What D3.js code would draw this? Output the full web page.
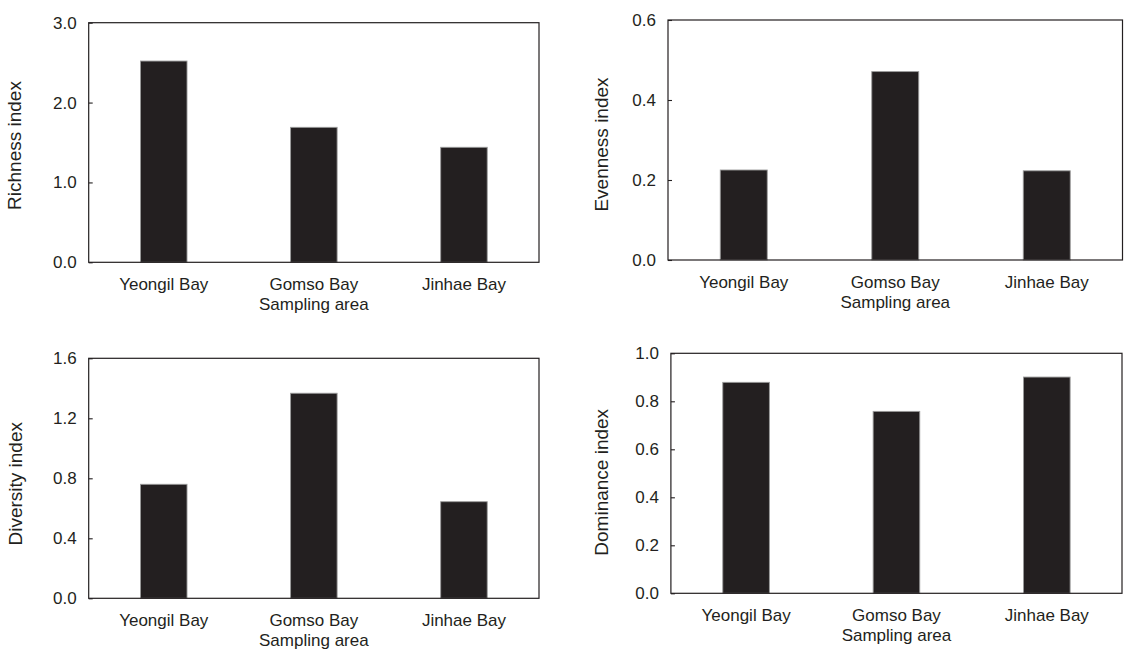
<!DOCTYPE html>
<html>
<head>
<meta charset="utf-8">
<script src="https://cdn.jsdelivr.net/npm/d3@7"></script>
<style>
  html, body { margin: 0; padding: 0; background: #fff; }
  svg text { font-family: "Liberation Sans", Arial, sans-serif; fill: #231f20; }
</style>
</head>
<body>
<svg id="chart" width="1130" height="652"></svg>
<script>
// ---- data ----
const categories = ["Yeongil Bay", "Gomso Bay", "Jinhae Bay"];
const richness  = [2.52, 1.69, 1.44];
const evenness  = [0.225, 0.471, 0.223];
const diversity = [0.76, 1.367, 0.644];
const dominance = [0.879, 0.758, 0.901];

const richnessTicks  = [0, 1, 2, 3];
const evennessTicks  = [0, 0.2, 0.4, 0.6];
const diversityTicks = [0, 0.4, 0.8, 1.2, 1.6];
const dominanceTicks = [0, 0.2, 0.4, 0.6, 0.8, 1.0];

const yTitles = ["Richness index", "Evenness index", "Diversity index", "Dominance index"];
const xTitle = "Sampling area";

// ---- layout (positions only) ----
const panels = [
  { values: richness,  ticks: richnessTicks,  title: yTitles[0], x0: 88.7, x1: 539,   y0: 22.7,  y1: 262.3, tx: 21,    tdy: 3 },
  { values: evenness,  ticks: evennessTicks,  title: yTitles[1], x0: 668,  x1: 1122.5, y0: 20,   y1: 260,   tx: 607.5, tdy: 4.5 },
  { values: diversity, ticks: diversityTicks, title: yTitles[2], x0: 88.7, x1: 539,   y0: 358.3, y1: 598.3, tx: 22,    tdy: 5.5 },
  { values: dominance, ticks: dominanceTicks, title: yTitles[3], x0: 670.9, x1: 1122, y0: 353.3, y1: 593.3, tx: 607.5, tdy: 9 }
];

const svg = d3.select("#chart");
const ink = "#231f20";
const FS = 17;

panels.forEach(p => {
  const g = svg.append("g");
  const x = d3.scaleBand().domain(categories).range([p.x0, p.x1]).paddingInner(0.69).paddingOuter(0.345);
  const y = d3.scaleLinear().domain([p.ticks[0], p.ticks[p.ticks.length - 1]]).range([p.y1, p.y0]);

  // bars
  g.selectAll("rect.bar").data(p.values).join("rect")
    .attr("class", "bar")
    .attr("x", (d, i) => x(categories[i]))
    .attr("width", x.bandwidth())
    .attr("y", d => y(d))
    .attr("height", d => y(0) - y(d))
    .attr("fill", ink)
    .attr("stroke", "#9a9a9a")
    .attr("stroke-width", 0.9);

  // y axis (inward ticks)
  const ya = g.append("g").attr("transform", `translate(${p.x0},0)`)
    .call(d3.axisLeft(y).tickValues(p.ticks).tickFormat(d3.format(".1f")).tickSize(-4).tickPadding(12));
  ya.select(".domain").remove();
  ya.selectAll(".tick line").attr("stroke", ink).attr("stroke-width", 1.1);
  ya.selectAll(".tick text").attr("font-size", FS).attr("font-family", "Liberation Sans, Arial, sans-serif").attr("fill", ink);

  // x axis labels
  const xa = g.append("g").attr("transform", `translate(0,${p.y1})`)
    .call(d3.axisBottom(x).tickSize(0).tickPadding(16));
  xa.select(".domain").remove();
  xa.selectAll(".tick text").attr("font-size", FS).attr("font-family", "Liberation Sans, Arial, sans-serif").attr("fill", ink);

  // frame
  g.append("rect")
    .attr("x", p.x0).attr("y", p.y0)
    .attr("width", p.x1 - p.x0).attr("height", p.y1 - p.y0)
    .attr("fill", "none").attr("stroke", ink).attr("stroke-width", 1.2);

  // x title
  g.append("text")
    .attr("x", x("Gomso Bay") + x.bandwidth() / 2)
    .attr("y", p.y1 + 48)
    .attr("text-anchor", "middle")
    .attr("font-size", FS)
    .text(xTitle);

  // y title
  const cy = (p.y0 + p.y1) / 2 + p.tdy;
  g.append("text")
    .attr("transform", `translate(${p.tx},${cy}) rotate(-90)`)
    .attr("text-anchor", "middle")
    .attr("font-size", 19)
    .text(p.title);
});
</script>
</body>
</html>
